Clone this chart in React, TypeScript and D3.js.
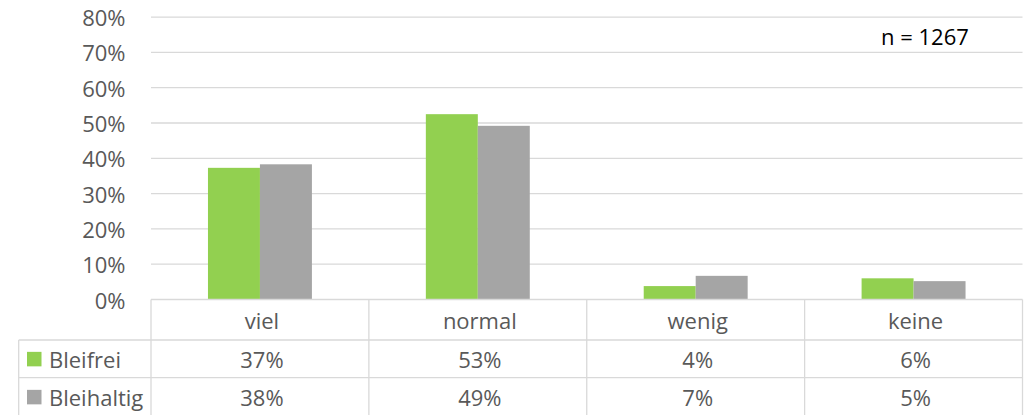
import React from "react";
import * as d3 from "d3";

const categories = ["viel", "normal", "wenig", "keine"];
const seriesNames = ["Bleifrei", "Bleihaltig"];
const bleifrei = [0.373, 0.525, 0.038, 0.06];
const bleihaltig = [0.383, 0.492, 0.067, 0.052];
const bleifreiLabels = ["37%", "53%", "4%", "6%"];
const bleihaltigLabels = ["38%", "49%", "7%", "5%"];
const yTicks = [0, 0.1, 0.2, 0.3, 0.4, 0.5, 0.6, 0.7, 0.8];
const note = "n = 1267";

const colors = ["#92D050", "#A5A5A5"];
const W = 1032;
const H = 415;
const FONT = "'Open Sans', sans-serif";
const FS = 22;

export default function App() {
  const left = 151;
  const right = 1022.5;
  const y0 = 299.5;
  const yTop = 17.1;
  const y = d3.scaleLinear().domain([0, 0.8]).range([y0, yTop]);
  const x = d3.scaleBand<string>().domain(categories).range([left, right]).paddingInner(0).paddingOuter(0);
  const xs = d3
    .scaleBand<string>()
    .domain(seriesNames)
    .range([0, x.bandwidth()])
    .paddingInner(0)
    .paddingOuter(1.096);
  const seriesValues = [bleifrei, bleihaltig];
  const seriesLabels = [bleifreiLabels, bleihaltigLabels];

  const rowTops = [y0, 340, 377.7];
  const rowBottoms = [340, 377.7, 416];
  const tableLeft = 18.7;
  const grid = "#d9d9d9";
  const textColor = "#595959";

  return (
    <svg
      width={W}
      height={H}
      style={{ position: "absolute", left: 0, top: 0, background: "#fff" }}
      fontFamily={FONT}
    >
      <rect x={0} y={0} width={W} height={H} fill="#fff" />
      {yTicks.map((t) => (
        <g key={t}>
          {t > 0 && (
            <line x1={left} x2={right} y1={y(t)} y2={y(t)} stroke={grid} strokeWidth={1.3} />
          )}
          <text
            x={125.5}
            y={y(t)}
            textAnchor="end"
            dominantBaseline="central"
            fontSize={FS}
            fill={textColor}
          >
            {d3.format(".0%")(t)}
          </text>
        </g>
      ))}
      {seriesNames.map((s, si) =>
        categories.map((c, ci) => (
          <rect
            key={s + c}
            x={(x(c) as number) + (xs(s) as number)}
            y={y(seriesValues[si][ci])}
            width={xs.bandwidth()}
            height={y0 - y(seriesValues[si][ci])}
            fill={colors[si]}
          />
        ))
      )}
      {/* table horizontal lines */}
      <line x1={left} x2={right} y1={y0} y2={y0} stroke={grid} strokeWidth={1.3} />
      <line x1={tableLeft} x2={right} y1={340} y2={340} stroke={grid} strokeWidth={1.3} />
      <line x1={tableLeft} x2={right} y1={377.7} y2={377.7} stroke={grid} strokeWidth={1.3} />
      {/* vertical lines */}
      {categories.map((c) => (
        <line
          key={"v" + c}
          x1={x(c) as number}
          x2={x(c) as number}
          y1={y0}
          y2={H + 2}
          stroke={grid}
          strokeWidth={1.3}
        />
      ))}
      <line x1={right} x2={right} y1={y0} y2={H + 2} stroke={grid} strokeWidth={1.3} />
      <line x1={tableLeft} x2={tableLeft} y1={340} y2={H + 2} stroke={grid} strokeWidth={1.3} />
      {/* category header */}
      {categories.map((c) => (
        <text
          key={"c" + c}
          x={(x(c) as number) + x.bandwidth() / 2 + 2}
          y={(rowTops[0] + rowBottoms[0]) / 2}
          textAnchor="middle"
          dominantBaseline="central"
          fontSize={FS}
          fill={textColor}
        >
          {c}
        </text>
      ))}
      {/* data rows */}
      {seriesNames.map((s, si) => {
        const cy = (rowTops[si + 1] + rowBottoms[si + 1]) / 2;
        return (
          <g key={"row" + s}>
            <rect x={27} y={cy - 7} width={14.5} height={14.5} fill={colors[si]} />
            <text x={49} y={cy} dominantBaseline="central" fontSize={FS} fill={textColor}>
              {s}
            </text>
            {categories.map((c, ci) => (
              <text
                key={s + c + "v"}
                x={(x(c) as number) + x.bandwidth() / 2 + 2}
                y={cy}
                textAnchor="middle"
                dominantBaseline="central"
                fontSize={FS}
                fill={textColor}
              >
                {seriesLabels[si][ci]}
              </text>
            ))}
          </g>
        );
      })}
      <text x={881} y={35.5} dominantBaseline="central" fontSize={FS} fill="#000">
        {note}
      </text>
    </svg>
  );
}
